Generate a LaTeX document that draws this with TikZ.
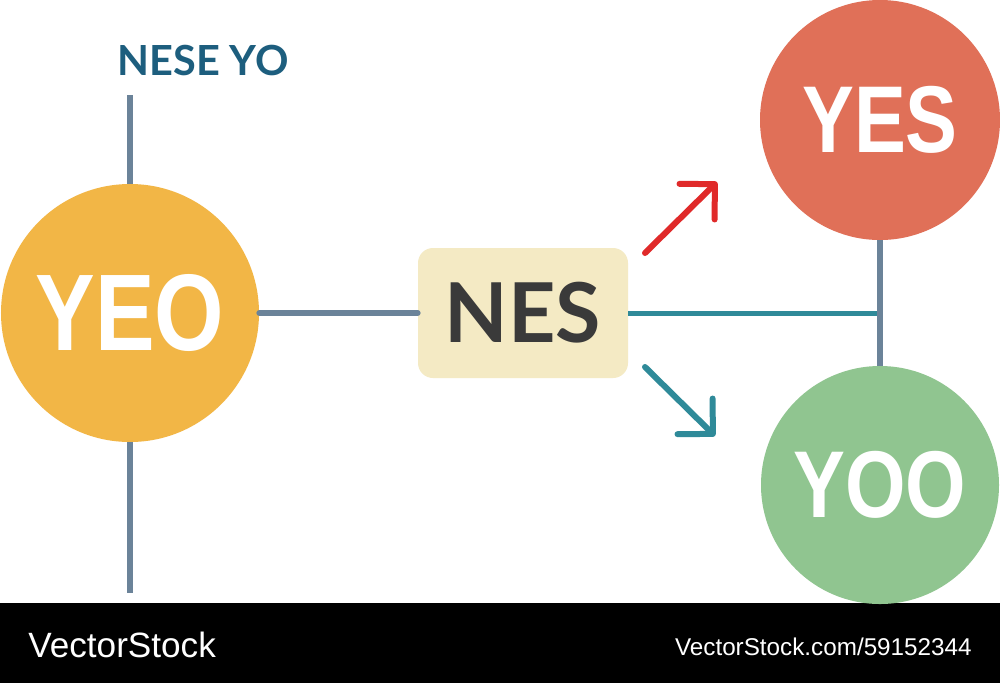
\documentclass[tikz,border=0pt]{standalone}
\usepackage{fontspec}
\usepackage{graphicx}
\setmainfont{Liberation Sans}
\newfontfamily\boxfont{Lato}
\usetikzlibrary{arrows.meta}
\definecolor{yeoorange}{HTML}{F2B646}
\definecolor{yesred}{HTML}{E07058}
\definecolor{yoogreen}{HTML}{90C590}
\definecolor{slateline}{HTML}{6B8399}
\definecolor{tealline}{HTML}{2F8A99}
\definecolor{arrowred}{HTML}{E02A2A}
\definecolor{nescream}{HTML}{F4EAC4}
\definecolor{nestext}{HTML}{3A3A3A}
\definecolor{titleblue}{HTML}{1D5E7E}
\newcommand{\bigword}[1]{\scalebox{0.82}[1]{\bfseries #1}}
\tikzset{>={Straight Barb[round,length=5mm,width=10mm]},
  bubble/.style={circle,inner sep=0pt,text=white},
  slate/.style={line width=1.2mm,slateline},
  teal/.style={line width=1mm,tealline}}

\begin{document}
\begin{tikzpicture}[x=0.2mm,y=-0.2mm]
      \useasboundingbox (0,0) rectangle (1000,683);
      \fill[white] (0,0) rectangle (1000,603);
      \fill[black] (0,603) rectangle (1000,683);

      \node[bubble,fill=yeoorange,minimum size=51.6mm,font=\fontsize{62}{62}\selectfont] (yeo) at (130,313) {\bigword{YEO}};
      \node[bubble,fill=yesred,minimum size=48mm,font=\fontsize{54}{54}\selectfont] (yes) at (880,120) {\bigword{YES}};
      \node[bubble,fill=yoogreen,minimum size=47.6mm,font=\fontsize{54}{54}\selectfont] (yoo) at (880,485) {\bigword{YOO}};
      \node[fill=nescream,rounded corners=3mm,minimum width=42mm,minimum height=26mm,
            text=nestext,font=\boxfont\bfseries\fontsize{47}{47}\selectfont] (nes) at (523,313) {NES};
      \node[text=titleblue,font=\boxfont\bfseries\fontsize{23.6}{24}\selectfont] (title) at (203,60) {NESE YO};

      \coordinate (yeotop) at (130,95);
      \coordinate (yeobot) at (130,593);
      \coordinate (joint) at (880,313);
      \draw[slate] (yeo.north) -- (yeotop);
      \draw[slate] (yeo.south) -- (yeobot);
      \draw[slate,line cap=round] (yeo.east) -- (nes.west);
      \draw[teal] (nes.east) -- (joint);
      \draw[slate] (yes.south) -- (yoo.north);

      \coordinate (upa) at (645,253);
      \coordinate (upb) at (717,182);
      \coordinate (dna) at (645,367);
      \coordinate (dnb) at (715,436);
      \draw[->,line width=1.2mm,arrowred,line cap=round] (upa) -- (upb);
      \draw[->,line width=1.2mm,tealline,line cap=round] (dna) -- (dnb);

      \node[text=white,anchor=base west,inner sep=0pt,font=\fontsize{20}{21}\selectfont] (brand) at (28,657) {VectorStock};
      \node[text=white,anchor=base east,inner sep=0pt,font=\fontsize{13.8}{14}\selectfont] (link) at (972,655) {VectorStock.com/59152344};
\end{tikzpicture}
\end{document}
